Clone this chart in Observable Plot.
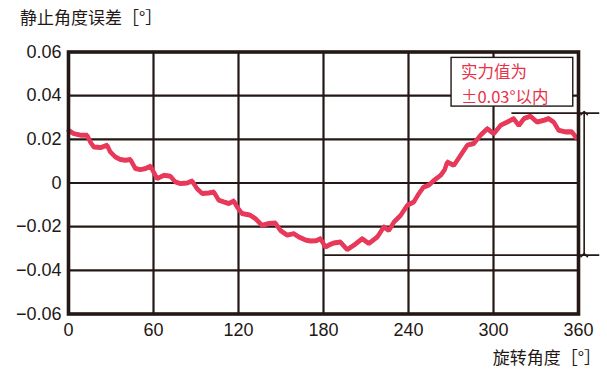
<!DOCTYPE html>
<html><head><meta charset="utf-8">
<script src="https://cdn.jsdelivr.net/npm/d3@7"></script>
<script src="https://cdn.jsdelivr.net/npm/@observablehq/plot@0.6"></script>
<style>
body{margin:0;background:#fff;}
#wrap{position:relative;width:607px;height:373px;font-family:"Liberation Sans","Noto Sans CJK SC",sans-serif;color:#231815;}
#title{position:absolute;left:20px;top:4px;font-size:17px;font-family:"Noto Sans CJK SC","Liberation Sans",sans-serif;}
#xlabel{position:absolute;right:6px;top:344px;font-size:17px;font-family:"Noto Sans CJK SC","Liberation Sans",sans-serif;}
</style></head>
<body><div id="wrap"><div id="chart"></div><div id="title"></div><div id="xlabel"></div></div>
<script>
const title = "静止角度误差［°］";
const xLabel = "旋转角度［°］";
const xTicks = [0, 60, 120, 180, 240, 300, 360];
const yTicks = [-0.06, -0.04, -0.02, 0, 0.02, 0.04, 0.06];
const angle = [0.2,3.8,8.5,13.2,15.5,17.9,22.6,27.3,29.6,33.2,36.7,40.2,43.8,47.3,50.8,54.4,57.9,60.2,62.6,67.3,72.0,75.5,79.1,83.8,87.3,90.8,94.4,99.0,102.6,106.1,109.6,113.2,116.7,119.1,122.6,128.5,132.0,136.7,141.4,146.1,149.6,154.4,159.0,162.6,167.3,170.8,174.5,177.9,181.4,184.5,187.3,192.0,196.7,201.4,207.3,212.0,217.9,222.6,226.1,229.6,234.4,239.1,243.7,247.3,250.5,254.3,257.9,262.6,265.5,267.3,270.5,272.0,276.7,281.4,286.1,290.8,295.6,300.2,304.9,309.7,314.3,317.9,321.4,326.1,330.8,335.5,339.0,342.6,346.1,350.8,355.5,359.0];
const error = [0.0240,0.0225,0.0218,0.0218,0.0187,0.0164,0.0161,0.0172,0.0141,0.0118,0.0106,0.0103,0.0106,0.0065,0.0060,0.0065,0.0076,0.0049,0.0019,0.0034,0.0030,0.0004,-0.0004,-0.0001,0.0008,-0.0027,-0.0049,-0.0047,-0.0042,-0.0080,-0.0088,-0.0095,-0.0083,-0.0111,-0.0141,-0.0149,-0.0164,-0.0195,-0.0187,-0.0184,-0.0218,-0.0240,-0.0233,-0.0248,-0.0262,-0.0267,-0.0266,-0.0256,-0.0294,-0.0283,-0.0276,-0.0271,-0.0306,-0.0286,-0.0256,-0.0278,-0.0248,-0.0202,-0.0218,-0.0180,-0.0149,-0.0103,-0.0088,-0.0049,-0.0020,-0.0011,0.0011,0.0034,0.0060,0.0095,0.0085,0.0080,0.0126,0.0172,0.0180,0.0218,0.0248,0.0225,0.0263,0.0278,0.0294,0.0263,0.0294,0.0305,0.0278,0.0286,0.0294,0.0278,0.0240,0.0233,0.0233,0.0202];
// annotation values (data units)
const specUpper = {x1: 313, x2: 375, y: 0.032};
const specLower = {x1: 180, x2: 375, y: -0.033};
const arrowX = 364;
const boxX = [270.4, 356.3];
const boxY = [0.035, 0.0573];
const boxLines = ["实力值为", "±0.03°以内"];
const boxLineY = [0.0480, 0.0365];
const boxTextX = 277;

document.getElementById("title").textContent = title;
document.getElementById("xlabel").textContent = xLabel;

const data = angle.map((a, i) => ({a, e: error[i]}));
const ink = "#231815";
const red = "#e8395a";
const fmt = d => d === 0 ? "0" : d3.format(".2f")(d).replace("-", "−");

const chart = Plot.plot({
  width: 607, height: 373,
  marginLeft: 68, marginRight: 29, marginTop: 51.5, marginBottom: 59.5,
  style: {fontFamily: "Liberation Sans, Noto Sans CJK SC, sans-serif", color: ink, background: "white"},
  x: {domain: [0, 360], ticks: xTicks},
  y: {domain: [-0.06, 0.06], ticks: yTicks},
  marks: [
    Plot.ruleX(xTicks.slice(1, -1), {stroke: ink, strokeWidth: 2.2}),
    Plot.ruleY(yTicks.slice(1, -1), {stroke: ink, strokeWidth: 2.2}),
    Plot.line(data, {x: "a", y: "e", stroke: red, strokeWidth: 4.5, strokeLinejoin: "miter"}),
    Plot.line(data, {x: "a", y: d => d.e + 0.0009, stroke: red, strokeWidth: 1.6}),
    Plot.frame({stroke: ink, strokeWidth: 3.6}),
    Plot.ruleY([specUpper], {x1: "x1", x2: "x2", y: "y", stroke: ink, strokeWidth: 1.8}),
    Plot.ruleY([specLower], {x1: "x1", x2: "x2", y: "y", stroke: ink, strokeWidth: 1.8}),
    Plot.link([{x: arrowX, y1: specLower.y, y2: specUpper.y}], {x1: "x", x2: "x", y1: "y1", y2: "y2", stroke: ink, strokeWidth: 1.6, markerStart: "arrow", markerEnd: "arrow"}),
    Plot.rect([{x1: boxX[0], x2: boxX[1], y1: boxY[0], y2: boxY[1]}], {x1: "x1", x2: "x2", y1: "y1", y2: "y2", fill: "white", stroke: ink, strokeWidth: 1.4}),
    Plot.text(boxLines, {x: () => boxTextX, y: (d, i) => boxLineY[i], text: d => d, textAnchor: "start", lineAnchor: "bottom", fill: "#e8304a", fontSize: 16.5, fontFamily: "Noto Sans CJK SC, sans-serif"}),
    Plot.axisX(xTicks, {tickSize: 0, tickPadding: 9, fontSize: 18, label: null, fill: ink}),
    Plot.axisY(yTicks, {tickSize: 0, tickPadding: 7, fontSize: 18, label: null, tickFormat: fmt, fill: ink})
  ]
});
document.getElementById("chart").appendChild(chart);
</script></body></html>
